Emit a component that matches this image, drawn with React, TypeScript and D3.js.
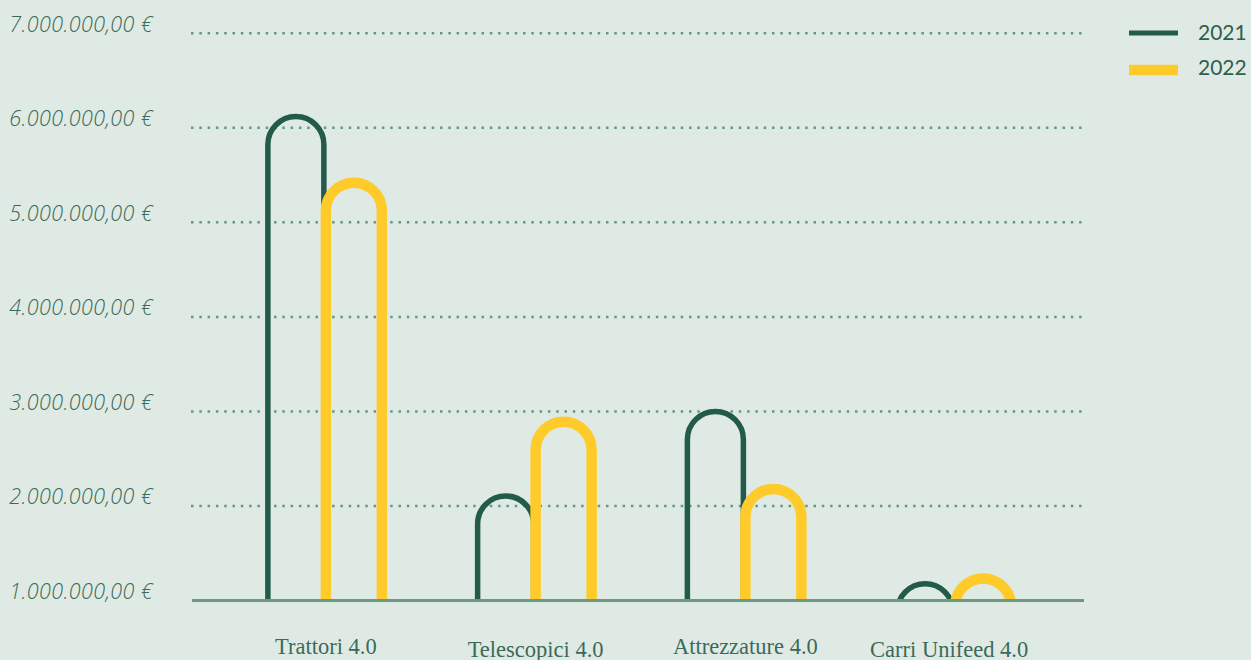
import React from "react";
import * as d3 from "d3";

const categories = ["Trattori 4.0", "Telescopici 4.0", "Attrezzature 4.0", "Carri Unifeed 4.0"];
const series2021 = [6120000, 2105000, 3000000, 1177000];
const series2022 = [5420000, 2890000, 2180000, 1233000];
const yTicks = [1000000, 2000000, 3000000, 4000000, 5000000, 6000000, 7000000];
const seriesNames = ["2021", "2022"];

const W = 1251;
const H = 660;
const BG = "#e0eae5";
const GREEN = "#235b4a";
const YELLOW = "#fecb2a";
const GRID = "#5f9b80";
const AXIS = "#6a9a80";
const TXT = "#3a6b58";

const fmt = (v: number) => {
  const s = d3.format(",.2f")(v);
  return s.replace(/,/g, "#").replace(".", ",").replace(/#/g, ".") + " €";
};

export default function App() {
  const y = d3.scaleLinear().domain([1000000, 7000000]).range([600.5, 33.3]);
  const x = d3.scaleBand<string>().domain(categories).range([220, 1059]).padding(0);
  const baseY = y(1000000);

  const arch = (x0: number, x1: number, v: number) => {
    const r = (x1 - x0) / 2;
    const top = y(v);
    const p = d3.path();
    p.moveTo(x0, baseY + 40);
    p.lineTo(x0, top + r);
    p.arc(x0 + r, top + r, r, Math.PI, 0, false);
    p.lineTo(x1, baseY + 40);
    return p.toString();
  };

  return (
    <svg
      width={W}
      height={H}
      style={{ position: "absolute", left: 0, top: 0, display: "block", background: BG }}
    >
      <defs>
        <clipPath id="plotClip">
          <rect x={0} y={0} width={W} height={baseY} />
        </clipPath>
      </defs>
      <rect x={0} y={0} width={W} height={H} fill={BG} />

      {yTicks.slice(1).map((t) => (
        <line
          key={"g" + t}
          x1={191}
          x2={1086}
          y1={y(t)}
          y2={y(t)}
          stroke={GRID}
          strokeWidth={2.5}
          strokeDasharray="2.5 5.8"
        />
      ))}

      {yTicks.map((t) => (
        <text
          key={"l" + t}
          x={153}
          y={y(t) - 1.5}
          textAnchor="end"
          fontFamily="'Open Sans', sans-serif"
          fontStyle="italic"
          fontWeight={300}
          fontSize={21.5}
          fill={TXT}
          letterSpacing={0.4}
        >
          {fmt(t)}
        </text>
      ))}

      <g clipPath="url(#plotClip)">
        {categories.map((c, i) => {
          const cx = (x(c) as number) + x.bandwidth() / 2;
          return (
            <g key={c}>
              <path d={arch(cx - 57, cx - 1, series2021[i])} fill="none" stroke={GREEN} strokeWidth={5.5} />
              <path d={arch(cx + 1, cx + 57, series2022[i])} fill="none" stroke={YELLOW} strokeWidth={10.5} />
            </g>
          );
        })}
      </g>

      <line x1={192} x2={1084} y1={baseY} y2={baseY} stroke={AXIS} strokeWidth={3} />

      {categories.map((c, i) => (
        <text
          key={"x" + c}
          x={(x(c) as number) + x.bandwidth() / 2 + (i === 3 ? -5 : 1)}
          y={i % 2 === 0 ? 654 : 657}
          textAnchor="middle"
          fontFamily="'Liberation Serif', serif"
          fontSize={22.5}
          fill={TXT}
        >
          {c}
        </text>
      ))}

      {seriesNames.map((s, i) => (
        <g key={s}>
          <line
            x1={1129}
            x2={1178}
            y1={i === 0 ? 33 : 70}
            y2={i === 0 ? 33 : 70}
            stroke={i === 0 ? GREEN : YELLOW}
            strokeWidth={i === 0 ? 5 : 10.5}
          />
          <text
            x={1198}
            y={i === 0 ? 40 : 75}
            fontFamily="Lato, sans-serif"
            fontSize={21}
            fill="#2d5e4e"
          >
            {s}
          </text>
        </g>
      ))}
    </svg>
  );
}
